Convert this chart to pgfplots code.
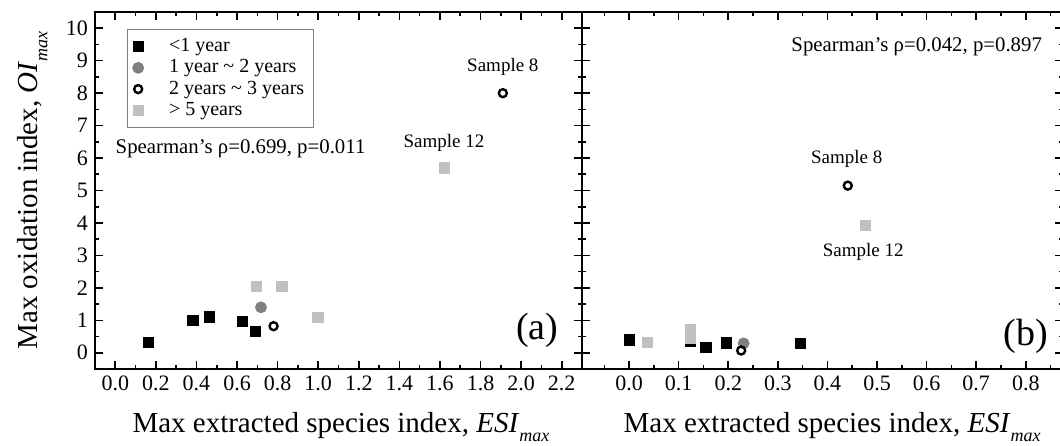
\documentclass[border=0pt]{standalone}
\usepackage{fontspec}
\setmainfont{Liberation Serif}
\usepackage{pgfplots}
\pgfplotsset{compat=1.18}
\usepackage{pgfplotstable}

\definecolor{midgray}{RGB}{128,128,128}
\definecolor{palegray}{RGB}{192,192,192}

% lowered italic subscript, Origin style
\newcommand{\maxsub}{\raisebox{-0.32em}{\fontsize{9}{10}\selectfont\textit{max}}}

% panel (a)
\pgfplotstableread{
x y
0.164 0.32
0.383 0.99
0.463 1.10
0.627 0.96
0.691 0.66
}\aLess
\pgfplotstableread{
x y
0.718 1.40
}\aOneTwo
\pgfplotstableread{
x y
0.780 0.82
1.910 8.00
}\aTwoThree
\pgfplotstableread{
x y
0.695 2.05
0.821 2.05
0.998 1.09
1.621 5.70
}\aFive

% panel (b)
\pgfplotstableread{
x y
0.000 0.40
0.124 0.37
0.155 0.16
0.196 0.31
0.345 0.29
}\bLess
\pgfplotstableread{
x y
0.231 0.29
}\bOneTwo
\pgfplotstableread{
x y
0.226 0.07
0.441 5.15
}\bTwoThree
\pgfplotstableread{
x y
0.037 0.32
0.124 0.45
0.124 0.72
0.476 3.92
}\bFive

\pgfplotsset{
  panel/.style={
    scale only axis,
    height=178.5pt,
    ymin=-0.5, ymax=10.5,
    ytick={0,1,...,10},
    minor ytick={0.5,1.5,...,9.5},
    tick align=inside,
    xtick pos=both, ytick pos=both,
    major tick length=3.8pt, minor tick length=2.2pt,
    every tick/.style={black, line width=0.8pt},
    axis line style={line width=1pt},
    tick label style={font=\fontsize{11}{13}\selectfont},
    /pgf/number format/assume math mode=true,
    xticklabel style={/pgf/number format/.cd, fixed, fixed zerofill, precision=1},
    label style={font=\fontsize{14.5}{16}\selectfont},
    xlabel={Max extracted species index, \textit{ESI}\maxsub},
    clip=false,
  },
  lt1/.style={only marks, mark=square*, mark size=2.6pt, color=black},
  y12/.style={only marks, mark=*, mark size=2.75pt, color=midgray},
  y23/.style={only marks, mark=o, mark size=2pt, color=black, mark options={line width=1.2pt}},
  y5/.style={only marks, mark=square*, mark size=2.6pt, color=palegray},
}

\begin{document}
\begin{tikzpicture}[x=1pt,y=1pt]
\useasboundingbox (-47.5,-38) rectangle (482.5,184.5);

\begin{axis}[
  panel,
  width=243.5pt,
  at={(0,0)}, anchor=south west,
  xmin=-0.1, xmax=2.3,
  xtick={0,0.2,...,2.2},
  minor xtick={0.1,0.3,...,2.1},
  ylabel={Max oxidation index, \textit{OI}\maxsub},
  ylabel style={at={(axis description cs:-0.128,0.5)}, anchor=center},
  xlabel style={at={(axis description cs:0.505,-0.178)}, anchor=base},
  legend style={at={(axis description cs:0.065,0.952)}, anchor=north west,
    draw=gray, line width=0.4pt, font=\fontsize{10}{11}\selectfont,
    row sep=-1.5pt, inner xsep=2.5pt, inner ysep=2.5pt},
  legend cell align=left,
  legend image code/.code={%
    \node[inner sep=0pt, minimum width=16.5pt, minimum height=2pt] at (8.25pt,0pt) {};
    \draw[#1] plot[only marks] coordinates {(11.5pt,0pt)};},
]
\addplot[lt1] table {\aLess};
\addlegendentry{<1 year}
\addplot[y12] table {\aOneTwo};
\addlegendentry{1 year \textasciitilde\ 2 years}
\addplot[y23] table {\aTwoThree};
\addlegendentry{2 years \textasciitilde\ 3 years}
\addplot[y5] table {\aFive};
\addlegendentry{> 5 years}

\node[anchor=west, inner sep=0pt, font=\fontsize{10.4}{12}\selectfont] at (axis cs:0,6.3) {Spearman's ρ=0.699, p=0.011};
\node[font=\fontsize{9.5}{11}\selectfont] at (axis cs:1.91,8.8) {Sample 8};
\node[font=\fontsize{9.5}{11}\selectfont] at (axis cs:1.62,6.46) {Sample 12};
\node[font=\fontsize{19}{21}\selectfont] at (axis cs:2.08,0.68) {(a)};
\end{axis}

\begin{axis}[
  panel,
  width=240.5pt,
  at={(243.5pt,0)}, anchor=south west,
  xmin=-0.095, xmax=0.875,
  xtick={0,0.1,...,0.8},
  minor xtick={-0.05,0.05,...,0.85},
  yticklabels={},
  xlabel style={at={(axis description cs:0.52,-0.178)}, anchor=base},
]
\addplot[lt1] table {\bLess};
\addplot[y12] table {\bOneTwo};
\addplot[y23] table {\bTwoThree};
\addplot[y5] table {\bFive};

\node[font=\fontsize{10.4}{12}\selectfont] at (axis cs:0.58,9.42) {Spearman's ρ=0.042, p=0.897};
\node[font=\fontsize{9.5}{11}\selectfont] at (axis cs:0.439,5.96) {Sample 8};
\node[font=\fontsize{9.5}{11}\selectfont] at (axis cs:0.472,3.10) {Sample 12};
\node[font=\fontsize{19}{21}\selectfont] at (axis cs:0.80,0.52) {(b)};
\end{axis}
\end{tikzpicture}
\end{document}
